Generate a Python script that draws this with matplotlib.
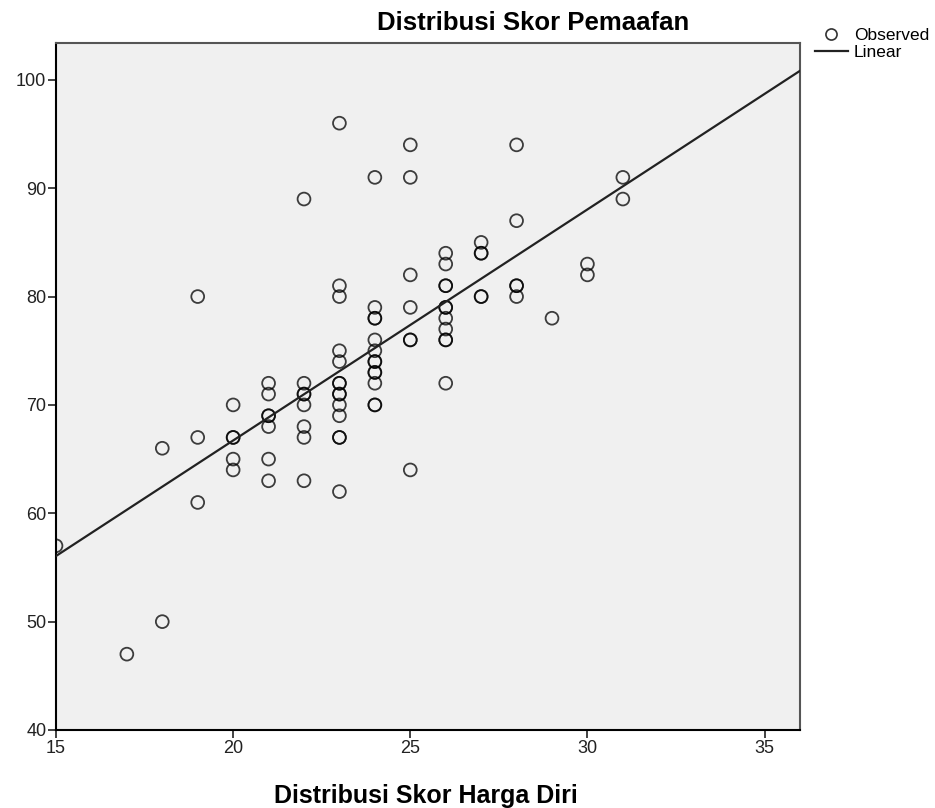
import numpy as np
import matplotlib
matplotlib.use('Agg')
import matplotlib.pyplot as plt
from matplotlib.lines import Line2D

plt.rcParams['font.family'] = ['Liberation Sans', 'DejaVu Sans']

# Skor harga diri (x) dan skor pemaafan (y)
harga_diri = [15,
              17,
              18, 18,
              19, 19, 19,
              20, 20, 20, 20, 20,
              21, 21, 21, 21, 21, 21, 21,
              22, 22, 22, 22, 22, 22, 22, 22,
              23, 23, 23, 23, 23, 23, 23, 23, 23, 23, 23, 23, 23, 23,
              24, 24, 24, 24, 24, 24, 24, 24, 24, 24, 24, 24, 24,
              25, 25, 25, 25, 25, 25, 25,
              26, 26, 26, 26, 26, 26, 26, 26, 26, 26, 26,
              27, 27, 27, 27, 27,
              28, 28, 28, 28, 28,
              29,
              30, 30,
              31, 31]
pemaafan = [57,
            47,
            66, 50,
            80, 67, 61,
            70, 67, 67, 65, 64,
            72, 71, 69, 69, 68, 65, 63,
            89, 72, 71, 71, 70, 68, 67, 63,
            96, 81, 80, 75, 74, 72, 72, 71, 71, 70, 69, 67, 67, 62,
            91, 79, 78, 78, 76, 75, 74, 74, 73, 73, 72, 70, 70,
            94, 91, 82, 79, 76, 76, 64,
            84, 83, 81, 81, 79, 79, 78, 77, 76, 76, 72,
            85, 84, 84, 80, 80,
            94, 87, 81, 81, 80,
            78,
            83, 82,
            91, 89]

x_ticks = [15, 20, 25, 30, 35]
y_ticks = [40, 50, 60, 70, 80, 90, 100]


def plot_scatter():
    fig = plt.figure(figsize=(9.35, 8.08), dpi=100)
    ax = fig.add_axes([56 / 935, 78 / 808, 744 / 935, 687 / 808])
    ax.set_facecolor('#f0f0f0')

    ax.scatter(harga_diri, pemaafan, s=85, facecolors='none',
               edgecolors=(0, 0, 0, 0.75), linewidths=1.3, zorder=3,
               clip_on=True)

    # garis regresi linear
    slope, intercept = np.polyfit(harga_diri, pemaafan, 1)
    xs = np.array([15, 36])
    ax.plot(xs, intercept + slope * xs, color='#222222', lw=1.6, zorder=4)

    ax.set_xlim(15, 36)
    ax.set_ylim(40, 103.4)
    ax.set_xticks(x_ticks)
    ax.set_yticks(y_ticks)
    ax.tick_params(direction='out', length=6, width=1.2, labelsize=13,
                   colors='#222222', pad=1)
    for s in ['left', 'bottom']:
        ax.spines[s].set_color('black')
        ax.spines[s].set_linewidth(1.5)
    for s in ['top', 'right']:
        ax.spines[s].set_color('#555555')
        ax.spines[s].set_linewidth(1.5)

    fig.text(533 / 935, 1 - 30 / 808, 'Distribusi Skor Pemaafan',
             ha='center', va='baseline', fontsize=18.5, fontweight='bold')
    fig.text(426 / 935, 1 - 803 / 808, 'Distribusi Skor Harga Diri',
             ha='center', va='baseline', fontsize=18, fontweight='bold')

    handles = [Line2D([], [], ls='none', marker='o', mfc='none', mec='#333333',
                      ms=8, mew=1.2),
               Line2D([], [], color='#222222', lw=1.6)]
    fig.legend(handles, ['Observed', 'Linear'], loc='upper left',
               bbox_to_anchor=(815 / 935, 1 - 28 / 808), frameon=False,
               fontsize=12.5, handlelength=1.9, handletextpad=0.35,
               labelspacing=0.1, borderaxespad=0, borderpad=0)

    fig.savefig('out.png', dpi=100)


if __name__ == "__main__":
    plot_scatter()
